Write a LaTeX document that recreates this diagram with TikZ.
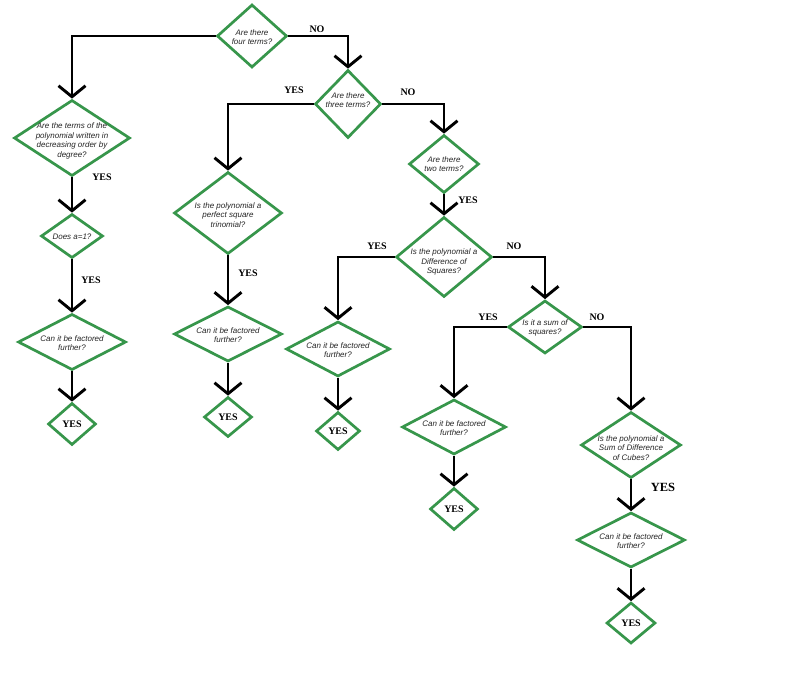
\documentclass[tikz,border=0pt]{standalone}
\usepackage{fontspec}
\setmainfont{Liberation Serif}
\newfontfamily\dfont{Liberation Sans}
\usetikzlibrary{shapes.geometric,arrows.meta}
\definecolor{dgreen}{RGB}{55,150,75}
\tikzset{
  dia/.style={diamond, draw=dgreen, line width=2.7pt, inner sep=0pt, fill=white},
  dtext/.style={align=center, inner sep=0pt, font=\dfont\itshape\fontsize{8}{9.6}\selectfont, text=black!85},
  ytext/.style={inner sep=0pt, font=\bfseries\fontsize{10}{12}\selectfont},
  lab/.style={inner sep=0pt, font=\bfseries\fontsize{10}{12}\selectfont},
  arr/.style={draw, line width=2.9pt, -{Straight Barb[length=11pt,width=27pt]}},
}
\begin{document}
\begin{tikzpicture}[x=1pt,y=-1pt]
\path[use as bounding box, fill=white] (0,0) rectangle (800,680);

% diamonds
\node[dia, minimum width=70pt, minimum height=63pt] (d1) at (252,36) {};
\node[dtext] (d1t) at (252,37) {Are there\\four terms?};

\node[dia, minimum width=116pt, minimum height=76pt] (d2) at (72,138) {};
\node[dtext] (d2t) at (72,141) {Are the terms of the\\polynomial written in\\decreasing order by\\degree?};

\node[dia, minimum width=62pt, minimum height=44pt] (d2b) at (72,236) {};
\node[dtext] (d2bt) at (72,237) {Does a=1?};

\node[dia, minimum width=108pt, minimum height=56pt] (d2c) at (72,342) {};
\node[dtext] (d2ct) at (72,343) {Can it be factored\\further?};

\node[dia, minimum width=48pt, minimum height=42pt] (y1) at (72,424) {};
\node[ytext] (y1t) at (72,424) {YES};

\node[dia, minimum width=66pt, minimum height=68pt] (d3) at (348,104) {};
\node[dtext] (d3t) at (348,100) {Are there\\three terms?};

\node[dia, minimum width=108pt, minimum height=82pt] (d4) at (228,213) {};
\node[dtext] (d4t) at (228,215) {Is the polynomial a\\perfect square\\trinomial?};

\node[dia, minimum width=108pt, minimum height=55pt] (d4c) at (228,334) {};
\node[dtext] (d4ct) at (228,335) {Can it be factored\\further?};

\node[dia, minimum width=48pt, minimum height=40pt] (y2) at (228,417) {};
\node[ytext] (y2t) at (228,417) {YES};

\node[dia, minimum width=70pt, minimum height=58pt] (d5) at (444,164) {};
\node[dtext] (d5t) at (444,164) {Are there\\two terms?};

\node[dia, minimum width=96pt, minimum height=80pt] (d6) at (444,257) {};
\node[dtext] (d6t) at (444,262) {Is the polynomial a\\Difference of\\Squares?};

\node[dia, minimum width=104pt, minimum height=55pt] (d7) at (338,349) {};
\node[dtext] (d7t) at (338,350) {Can it be factored\\further?};

\node[dia, minimum width=44pt, minimum height=38pt] (y3) at (338,431) {};
\node[ytext] (y3t) at (338,431) {YES};

\node[dia, minimum width=74pt, minimum height=53pt] (d8) at (545,327) {};
\node[dtext] (d8t) at (545,328) {Is it a sum of\\squares?};

\node[dia, minimum width=104pt, minimum height=55pt] (d9) at (454,427) {};
\node[dtext] (d9t) at (454,428) {Can it be factored\\further?};

\node[dia, minimum width=48pt, minimum height=42pt] (y4) at (454,509) {};
\node[ytext] (y4t) at (454,509) {YES};

\node[dia, minimum width=100pt, minimum height=66pt] (d10) at (631,445) {};
\node[dtext] (d10t) at (631,448) {Is the polynomial a\\Sum of Difference\\of Cubes?};

\node[dia, minimum width=108pt, minimum height=55pt] (d11) at (631,540) {};
\node[dtext] (d11t) at (631,541) {Can it be factored\\further?};

\node[dia, minimum width=49pt, minimum height=41pt] (y5) at (631,623) {};
\node[ytext] (y5t) at (631,623) {YES};

% connectors
\draw[arr] (d1.west) -| (d2.north);
\draw[arr] (d1.east) -| (d3.north);
\draw[arr] (d2.south) -- (d2b.north);
\draw[arr] (d2b.south) -- (d2c.north);
\draw[arr] (d2c.south) -- (y1.north);
\draw[arr] (d3.west) -| (d4.north);
\draw[arr] (d3.east) -| (d5.north);
\draw[arr] (d4.south) -- (d4c.north);
\draw[arr] (d4c.south) -- (y2.north);
\draw[arr] (d5.south) -- (d6.north);
\draw[arr] (d6.west) -| (d7.north);
\draw[arr] (d6.east) -| (d8.north);
\draw[arr] (d7.south) -- (y3.north);
\draw[arr] (d8.west) -| (d9.north);
\draw[arr] (d8.east) -| (d10.north);
\draw[arr] (d9.south) -- (y4.north);
\draw[arr] (d10.south) -- (d11.north);
\draw[arr] (d11.south) -- (y5.north);

% labels
\node[lab] (l1) at (317,29) {NO};
\node[lab] (l2) at (102,177) {YES};
\node[lab] (l3) at (91,280) {YES};
\node[lab] (l4) at (294,90) {YES};
\node[lab] (l5) at (408,92) {NO};
\node[lab] (l6) at (248,273) {YES};
\node[lab] (l7) at (468,200) {YES};
\node[lab] (l8) at (377,246) {YES};
\node[lab] (l9) at (514,246) {NO};
\node[lab] (l10) at (488,317) {YES};
\node[lab] (l11) at (597,317) {NO};
\node[lab, font=\bfseries\fontsize{12.5}{14}\selectfont] (l12) at (663,487) {YES};
\end{tikzpicture}
\end{document}
